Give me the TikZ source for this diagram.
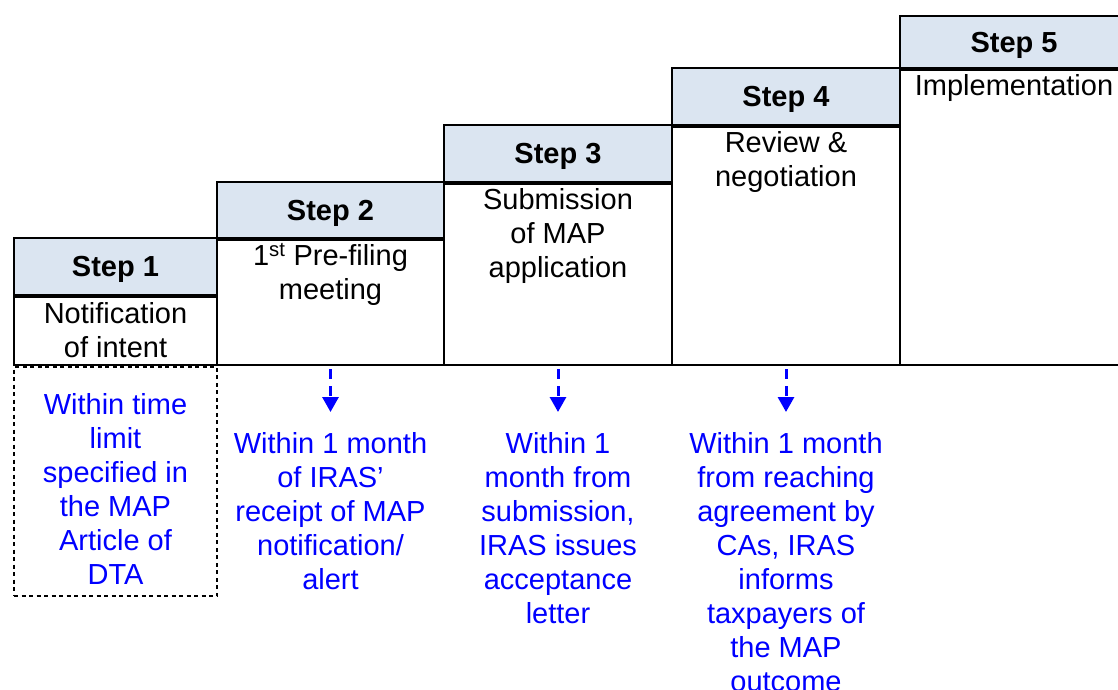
\documentclass[tikz,border=0pt]{standalone}
\usepackage{fontspec}
\setmainfont{Liberation Sans}
\usetikzlibrary{positioning}
\usetikzlibrary{arrows.meta}
\definecolor{headfill}{HTML}{DBE5F1}
\definecolor{noteblue}{HTML}{0000FF}
\newcommand{\stepfont}{\fontsize{29}{34}\selectfont}
\tikzset{head/.style = {draw, line width=2pt, fill=headfill, font=\stepfont\bfseries,
                        text depth=0pt, anchor=north west, inner sep=0}}
\tikzset{body/.style = {draw, line width=2pt, anchor=north west, inner sep=0}}
\tikzset{bodytext/.style = {align=center, inner sep=0}}
\tikzset{dashbox/.style = {draw, line width=2pt, dash pattern=on 4pt off 3.5pt,
                           anchor=north west, inner sep=0}}
\tikzset{note/.style = {align=center, inner sep=0, text=noteblue}}
\tikzset{link/.style = {draw=noteblue, line width=3pt, dash pattern=on 10pt off 7pt,
                        -{Triangle[width=16pt, length=15pt]}, shorten <=3pt, shorten >=20pt}}

\begin{document}
\begin{tikzpicture}[x=1pt, y=-1pt, font=\stepfont]
    \useasboundingbox (0, 0) rectangle (1118, 690);

    % step headers
    \node [head, minimum width=203pt, minimum height=57pt] (h1) at (13, 237) {Step 1};
    \node [head, minimum width=227pt, minimum height=56pt] (h2) at (216, 181) {Step 2};
    \node [head, minimum width=228pt, minimum height=57pt] (h3) at (443, 124) {Step 3};
    \node [head, minimum width=228pt, minimum height=57pt] (h4) at (671, 67) {Step 4};
    \node [head, minimum width=228pt, minimum height=52pt] (h5) at (899, 15) {Step 5};

    % step bodies
    \node [body, minimum width=203pt, minimum height=68pt] (b1) at (h1.south west) {};
    \node [body, minimum width=227pt, minimum height=125pt] (b2) at (h2.south west) {};
    \node [body, minimum width=228pt, minimum height=181pt] (b3) at (h3.south west) {};
    \node [body, minimum width=228pt, minimum height=238pt] (b4) at (h4.south west) {};
    \node [body, minimum width=228pt, minimum height=295pt] (b5) at (h5.south west) {};

    \node [bodytext, below=6pt of b1.north] (t1) {Notification\\of intent};
    \node [bodytext, below=4pt of b2.north] (t2) {1\textsuperscript{st} Pre-filing\\meeting};
    \node [bodytext, below=5pt of b3.north] (t3) {Submission\\of MAP\\application};
    \node [bodytext, below=5pt of b4.north] (t4) {Review \&\\negotiation};
    \node [bodytext, below=5pt of b5.north] (t5) {Implementation};

    % time limits
    \node [dashbox, minimum width=203pt, minimum height=229pt] (d1) at (b1.south west) {};
    \node [note, below=27pt of d1.north] (n1)
      {Within time\\limit\\specified in\\the MAP\\Article of\\DTA};
    \node [note, below=66pt of b2.south] (n2)
      {Within 1 month\\of IRAS’\\receipt of MAP\\notification/\\alert};
    \node [note, below=66pt of b3.south] (n3)
      {Within 1\\month from\\submission,\\IRAS issues\\acceptance\\letter};
    \node [note, below=66pt of b4.south] (n4)
      {Within 1 month\\from reaching\\agreement by\\CAs, IRAS\\informs\\taxpayers of\\the MAP\\outcome};

    \draw [link] (b2.south) -- (n2.north);
    \draw [link] (b3.south) -- (n3.north);
    \draw [link] (b4.south) -- (n4.north);
  \end{tikzpicture}
\end{document}
